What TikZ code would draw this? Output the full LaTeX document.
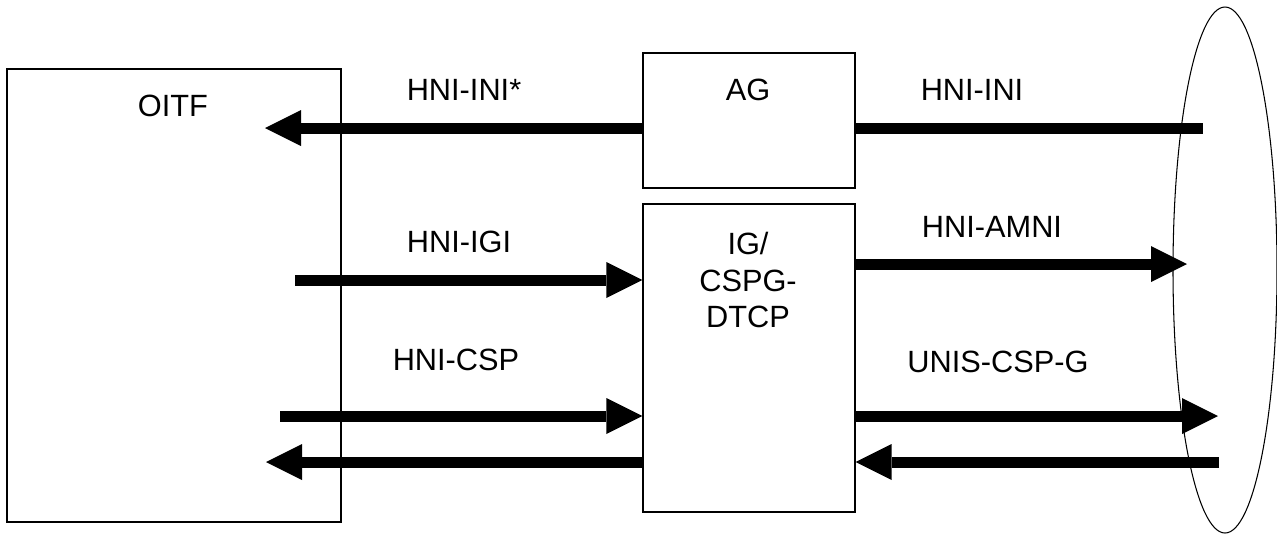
\documentclass[tikz,border=0pt]{standalone}
\usepackage{fontspec}
\setmainfont{Liberation Sans}
\usetikzlibrary{arrows.meta, shapes.geometric}
\tikzset{%
    bx/.style={draw, rectangle, line width=0.75pt, inner sep=0pt},
    txt/.style={font=\fontsize{17.5}{21}\selectfont, inner sep=0pt},
    pri/.style={line width=0.22cm},
    pria/.style={line width=0.22cm, -{Triangle[length=0.72cm, width=0.72cm, line width=0pt]}},
}

\begin{document}
\begin{tikzpicture}
    \useasboundingbox (0,0) rectangle (25.54,-10.70);
    \node[bx, minimum width=6.68cm, minimum height=9.06cm] (oitf) at (3.48,-5.91) {};
    \node[bx, minimum width=4.24cm, minimum height=2.70cm] (ag) at (14.98,-2.41) {};
    \node[bx, minimum width=4.24cm, minimum height=6.16cm] (ig) at (14.98,-7.16) {};
    \node[draw, ellipse, line width=0.6pt, inner sep=0pt, minimum width=2.08cm, minimum height=10.52cm] (net) at (24.50,-5.40) {};
    % free ends of the links
    \coordinate (c1) at (5.30,-2.56);
    \coordinate (c2) at (24.06,-2.56);
    \coordinate (c3) at (5.90,-5.60);
    \coordinate (c4) at (23.74,-5.28);
    \coordinate (c5) at (5.60,-8.32);
    \coordinate (c6) at (24.36,-8.32);
    \coordinate (c7) at (5.32,-9.24);
    \coordinate (c8) at (24.38,-9.24);
    \draw [pria] (c1 -| ag.west) -- (c1);
    \draw [pri] (c2 -| ag.east) -- (c2);
    \draw [pria] (c3) -- (c3 -| ig.west);
    \draw [pria] (c4 -| ig.east) -- (c4);
    \draw [pria] (c5) -- (c5 -| ig.west);
    \draw [pria] (c6 -| ig.east) -- (c6);
    \draw [pria] (c7 -| ig.west) -- (c7);
    \draw [pria] (c8) -- (c8 -| ig.east);
    \node[txt] (oitftxt) at (3.46,-2.12) {OITF};
    \node[txt] (agtxt) at (14.96,-1.80) {AG};
    \node[txt, align=center] (igtxt) at (14.96,-5.60) {IG/\\CSPG-\\DTCP};
    \node[txt] (hniini1) at (9.28,-1.80) {HNI-INI*};
    \node[txt] (hniini) at (19.44,-1.80) {HNI-INI};
    \node[txt] (hniigi) at (9.18,-4.84) {HNI-IGI};
    \node[txt] (hniamni) at (19.84,-4.54) {HNI-AMNI};
    \node[txt] (hnicsp) at (9.12,-7.20) {HNI-CSP};
    \node[txt] (uniscsp) at (19.96,-7.24) {UNIS-CSP-G};
\end{tikzpicture}
\end{document}
